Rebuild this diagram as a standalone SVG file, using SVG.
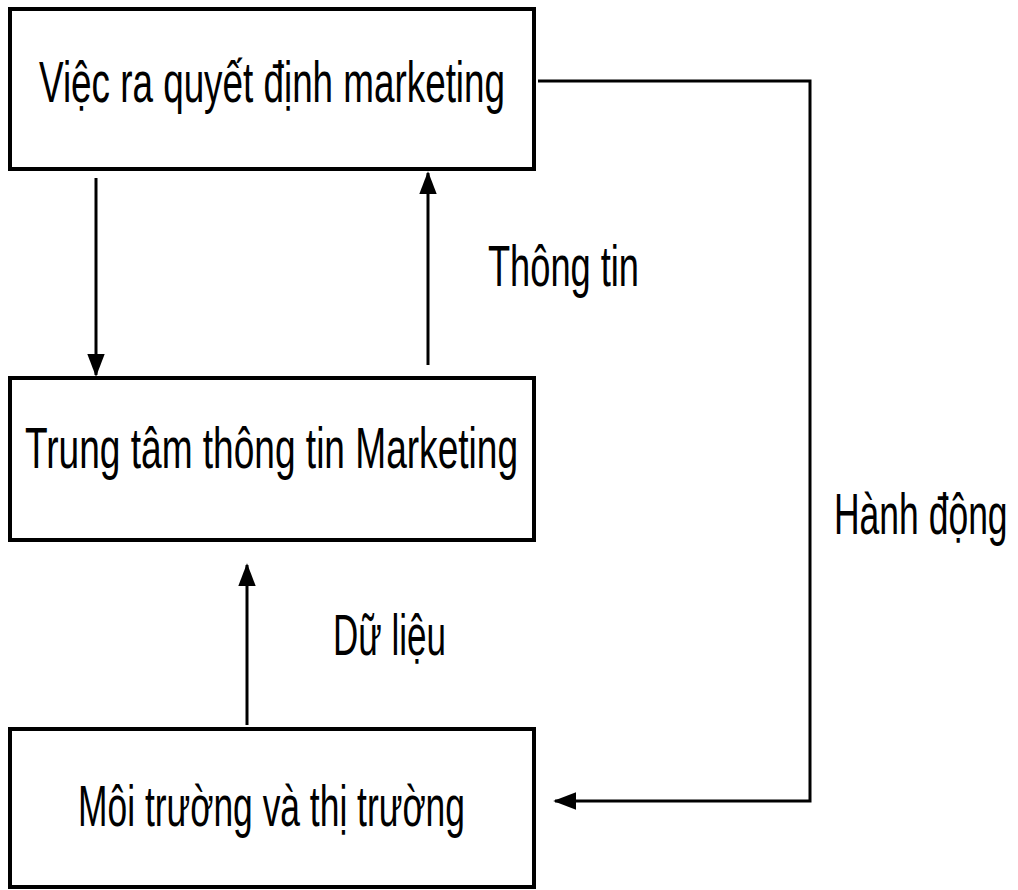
<svg xmlns="http://www.w3.org/2000/svg" width="1018" height="890" viewBox="0 0 1018 890">
<style>
.box{fill:#fff;stroke:#000;stroke-width:4}
.t{font-family:"Liberation Sans",Arial,sans-serif;font-size:57px;fill:#000}
.c{fill:none;stroke:#000;stroke-width:3}
</style>
<defs>
<marker id="ah" markerWidth="8" markerHeight="6" refX="7" refY="2.9" orient="auto" markerUnits="strokeWidth">
<path d="M0,0 L7.6,2.9 L0,5.8 z" fill="#000"/>
</marker>
</defs>
<rect width="1018" height="890" fill="#fff"/>
<g id="node-decision">
<rect class="box" x="10" y="9" width="524" height="160"/>
<text class="t" x="39" y="102" textLength="466" lengthAdjust="spacingAndGlyphs">Việc ra quyết định marketing</text>
</g>
<g id="node-center">
<rect class="box" x="10" y="378" width="524" height="162"/>
<text class="t" x="25" y="468" textLength="493" lengthAdjust="spacingAndGlyphs">Trung tâm thông tin Marketing</text>
</g>
<g id="node-env">
<rect class="box" x="10" y="729" width="524" height="158"/>
<text class="t" x="78" y="826" textLength="387" lengthAdjust="spacingAndGlyphs">Môi trường và thị trường</text>
</g>
<g id="connectors">
<line class="c" x1="96" y1="178" x2="96" y2="375" marker-end="url(#ah)"/>
<line class="c" x1="428" y1="365" x2="428" y2="173" marker-end="url(#ah)"/>
<line class="c" x1="247" y1="725" x2="247" y2="565" marker-end="url(#ah)"/>
<polyline class="c" points="538,81 810,81 810,801 555,801" marker-end="url(#ah)"/>
<text class="t" x="488" y="286" textLength="151" lengthAdjust="spacingAndGlyphs">Thông tin</text>
<text class="t" x="333" y="655" textLength="113" lengthAdjust="spacingAndGlyphs">Dữ liệu</text>
<text class="t" transform="translate(834,534) scale(0.62,1)" x="0" y="0" textLength="280" lengthAdjust="spacingAndGlyphs">Hành động</text>
</g>
</svg>
